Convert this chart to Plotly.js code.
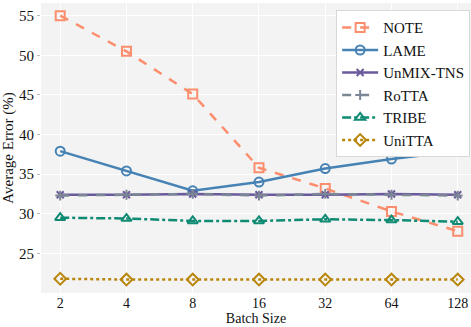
<!DOCTYPE html>
<html><head><meta charset="utf-8">
<script src="https://cdn.plot.ly/plotly-3.0.1.min.js"></script>
<style>body{margin:0;padding:0;}#chart{width:471px;height:327px;}</style>
</head><body><div id="chart"></div>
<script>
const batchSizes = ['2','4','8','16','32','64','128'];
const note = [55.0, 50.5, 45.1, 35.8, 33.2, 30.3, 27.8];
const lame = [37.9, 35.4, 32.9, 34.0, 35.7, 36.9, 37.9];
const unmix = [32.4, 32.4, 32.5, 32.4, 32.4, 32.5, 32.4];
const rotta = [32.3, 32.4, 32.5, 32.3, 32.5, 32.4, 32.3];
const tribe = [29.5, 29.4, 29.1, 29.1, 29.3, 29.2, 29.0];
const unitta = [21.8, 21.7, 21.7, 21.7, 21.7, 21.7, 21.7];

function tr(name, y, color, dash, symbol, size){
  return {x: batchSizes, y: y, name: name, type: 'scatter', mode: 'lines+markers',
    line: {color: color, width: 2.5, dash: dash},
    marker: {symbol: symbol, size: size, color: color, line: {color: color, width: 2}}};
}
const data = [
  tr('NOTE', note, '#fc8d6d', 'dash', 'square-open', 9),
  tr('LAME', lame, '#4682b4', 'solid', 'circle-open', 9),
  tr('UnMIX-TNS', unmix, '#6a5a9c', 'solid', 'x-thin', 7),
  tr('RoTTA', rotta, '#7b8794', 'dash', 'cross-thin', 7),
  tr('TRIBE', tribe, '#0f8a73', 'dashdot', 'triangle-up-open', 9),
  tr('UniTTA', unitta, '#b8860b', 'dot', 'diamond-open', 9)
];
const serif = 'Liberation Serif';
const layout = {
  width: 471, height: 327,
  margin: {l: 41, r: 0, t: 3, b: 34},
  paper_bgcolor: '#ffffff', plot_bgcolor: '#f3f3f3',
  font: {family: serif, color: '#111', size: 14},
  showlegend: true,
  legend: {x: 0.998, y: 0.975, xanchor: 'right', yanchor: 'top', bgcolor: '#ffffff',
    bordercolor: '#d8d8d8', borderwidth: 1, font: {family: serif, size: 15}, tracegroupgap: 0,
    itemwidth: 36},
  xaxis: {type: 'category', range: [-0.29, 6.2], showgrid: true, gridcolor: '#ffffff', gridwidth: 1,
    zeroline: false, ticks: '', tickfont: {family: serif, size: 14},
    title: {text: 'Batch Size', font: {family: serif, size: 14}, standoff: 1}},
  yaxis: {range: [20.0, 56.6], tickvals: [25, 30, 35, 40, 45, 50, 55], showgrid: true,
    gridcolor: '#ffffff', gridwidth: 1, zeroline: false, ticks: 'outside', ticklen: 3,
    tickcolor: '#bbbbbb', tickfont: {family: serif, size: 15},
    title: {text: 'Average Error (%)', font: {family: serif, size: 15}, standoff: 2}}
};
Plotly.newPlot('chart', data, layout, {displayModeBar: false});
</script></body></html>
